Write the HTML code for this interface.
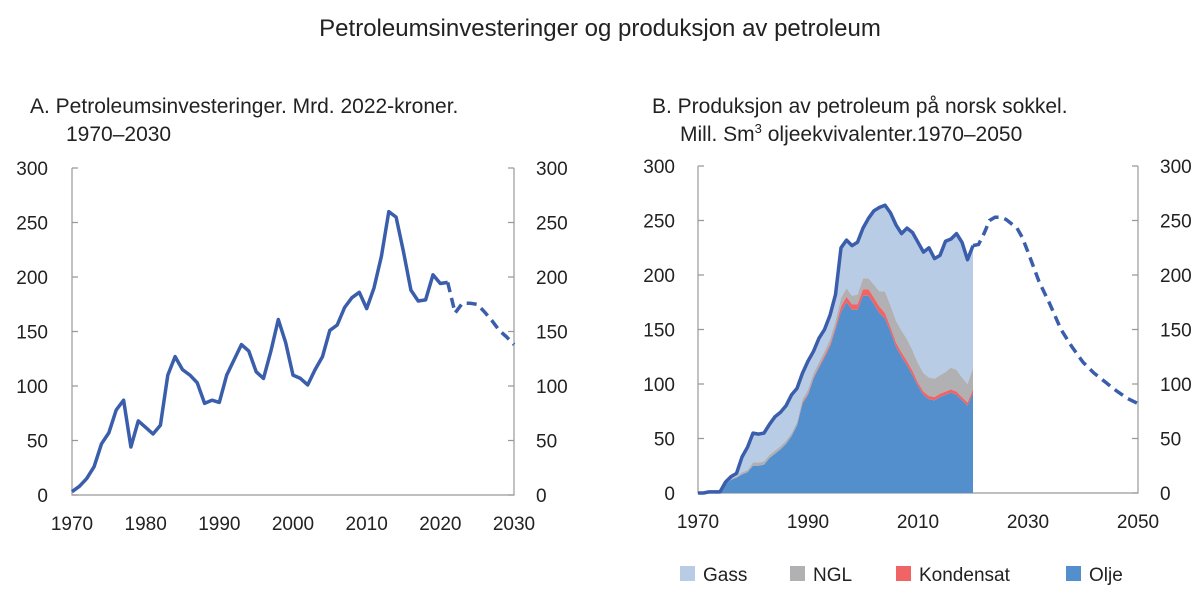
<!DOCTYPE html>
<html><head><meta charset="utf-8"><style>
body{margin:0;background:#fff;}
svg text{font-family:"Liberation Sans","DejaVu Sans",sans-serif;fill:#222;}
</style></head><body>
<svg width="1200" height="602" viewBox="0 0 1200 602" xmlns="http://www.w3.org/2000/svg">
<text x="600" y="36" font-size="24" text-anchor="middle">Petroleumsinvesteringer og produksjon av petroleum</text>
<text x="30" y="113" font-size="21">A.  Petroleumsinvesteringer. Mrd. 2022-kroner.</text>
<text x="66" y="141" font-size="21">1970–2030</text>
<text x="652" y="113" font-size="21">B. Produksjon av petroleum på norsk sokkel.</text>
<text x="680" y="141" font-size="21">Mill. Sm<tspan font-size="13" dy="-8">3</tspan><tspan dy="8"> oljeekvivalenter.1970–2050</tspan></text>
<g id="A"></g><g id="B"></g>
<g>
<rect x="680" y="566" width="15" height="15" fill="#b9cce6"/>
<text x="703" y="581" font-size="19">Gass</text>
<rect x="790" y="566" width="15" height="15" fill="#b1b1b3"/>
<text x="813" y="581" font-size="19">NGL</text>
<rect x="896" y="566" width="15" height="15" fill="#f06466"/>
<text x="919" y="581" font-size="19">Kondensat</text>
<rect x="1066" y="566" width="15" height="15" fill="#528fcc"/>
<text x="1089" y="581" font-size="19">Olje</text>
</g>
</svg>
<script>
const invYears=[];for(let y=1970;y<=2021;y++)invYears.push(y);
const invValues=[3,8,15,26,47,57,78,87,44,68,62,56,64,110,127,115,110,103,84,87,85,110,124,138,132,113,107,132,161,140,110,107,101,115,127,151,156,172,181,186,171,190,219,260,255,223,188,178,179,202,194,195];
const invFcYears=[2021,2022,2023,2024,2025,2026,2027,2028,2029,2030];
const invFcValues=[195,167,176,176,175,168,160,151,145,138];
const yTicks=[0,50,100,150,200,250,300];
const aXTicks=[1970,1980,1990,2000,2010,2020,2030];
const bXTicks=[1970,1990,2010,2030,2050];
const prodYears=[];for(let y=1970;y<=2020;y++)prodYears.push(y);
const total=[0,0,1,1,1,10,15,18,33,42,55,54,55,63,70,74,80,90,96,110,121,130,142,150,163,182,225,232,227,230,243,252,259,262,264,257,246,238,243,239,230,221,225,215,218,231,233,238,230,214,227];
const olje=[0,0,1,1,1,8,12,14,17,19,25,25,26,32,36,40,45,52,62,82,90,105,115,124,134,150,166,175,168,168,181,181,173,165,160,148,134,125,117,108,98,90,86,85,88,90,92,90,85,80,92];
const kondensat=[0,0,0,0,0,0,0,0,0,0,0,0,0,0,0,0,0,0,0,1,1,1,1,2,2,2,5,5,5,5,6,6,6,6,5,4,4,4,4,4,3,3,3,3,3,3,3,3,3,3,3];
const ngl=[0,0,0,0,0,1,1,1,2,2,3,3,3,3,3,3,3,3,3,3,4,4,4,4,5,6,8,8,8,9,10,10,12,14,20,20,20,20,20,19,18,17,17,17,17,18,20,20,18,17,20];
const prodFcYears=[2020,2021,2022,2023,2024,2025,2026,2027,2028,2029,2030,2032,2034,2036,2038,2040,2042,2044,2046,2048,2050];
const prodFcValues=[227,228,238,250,253,253,251,247,243,234,221,194,173,150,134,120,110,102,94,87,82];
const NS="http://www.w3.org/2000/svg";
function mk(tag,attrs,parent){const e=document.createElementNS(NS,tag);for(const k in attrs)e.setAttribute(k,attrs[k]);parent.appendChild(e);return e;}
function axes(g,x0,x1,y0,y1,xmin,xmax,ticksX,leftLblX,rightLblX){
 const sx=v=>x0+(v-xmin)/(xmax-xmin)*(x1-x0);
 const sy=v=>y0-(v/300)*(y0-y1);
 const frame=mk('path',{d:`M${x0},${y1}V${y0}H${x1}V${y1}`,fill:'none',stroke:'#999','stroke-width':1.2},g);
 
 
 yTicks.forEach(t=>{
  const tk=mk('path',{d:`M${x0},${sy(t)}h6M${x1},${sy(t)}h-6`,stroke:'#999','stroke-width':1.2},g);
  
  
  const l=mk('text',{x:leftLblX,y:sy(t)+7,'font-size':19,'text-anchor':'end'},g);l.textContent=t;
  
  
  const r=mk('text',{x:rightLblX,y:sy(t)+7,'font-size':19,'text-anchor':'start'},g);r.textContent=t;
  
  
 });
 ticksX.forEach(t=>{
  const l=mk('text',{x:sx(t),y:y0+35,'font-size':19,'text-anchor':'middle'},g);l.textContent=t;
  
  
 });
 return [sx,sy];
}
function pts(xs,vs,sx,sy){return xs.map((x,i)=>sx(x).toFixed(1)+','+sy(vs[i]).toFixed(1)).join(' ');}
// Panel A
const gA=document.getElementById('A');


let [ax,ay]=axes(gA,72,514,495,168,1970,2030,aXTicks,48,536);
let l1=mk('polyline',{points:pts(invYears,invValues,ax,ay),fill:'none',stroke:'#3a5eab','stroke-width':3.5,'stroke-linejoin':'round'},gA);


let l2=mk('polyline',{points:pts(invFcYears,invFcValues,ax,ay),fill:'none',stroke:'#3a5eab','stroke-width':3.5,'stroke-dasharray':'10,6'},gA);


// Panel B
const gB=document.getElementById('B');


let [bx,by]=axes(gB,698,1138,493,166,1970,2050,bXTicks,675,1160);
const cum1=olje, cum2=olje.map((v,i)=>v+kondensat[i]), cum3=cum2.map((v,i)=>v+ngl[i]);
function area(top,bottom,color,name){
 let d='M'+prodYears.map((y,i)=>bx(y).toFixed(1)+','+by(top[i]).toFixed(1)).join('L');
 for(let i=prodYears.length-1;i>=0;i--)d+='L'+bx(prodYears[i]).toFixed(1)+','+by(bottom?bottom[i]:0).toFixed(1);
 const p=mk('path',{d:d+'Z',fill:color},gB);
 
 
}
area(total,cum3,'#b9cce6','area-gass');
area(cum3,cum2,'#b1b1b3','area-ngl');
area(cum2,cum1,'#f06466','area-kondensat');
area(cum1,null,'#528fcc','area-olje');
let l3=mk('polyline',{points:pts(prodYears,total,bx,by),fill:'none',stroke:'#3a5eab','stroke-width':3.5,'stroke-linejoin':'round'},gB);


let l4=mk('polyline',{points:pts(prodFcYears,prodFcValues,bx,by),fill:'none',stroke:'#3a5eab','stroke-width':3.5,'stroke-dasharray':'10,6'},gB);


</script>
</body></html>
